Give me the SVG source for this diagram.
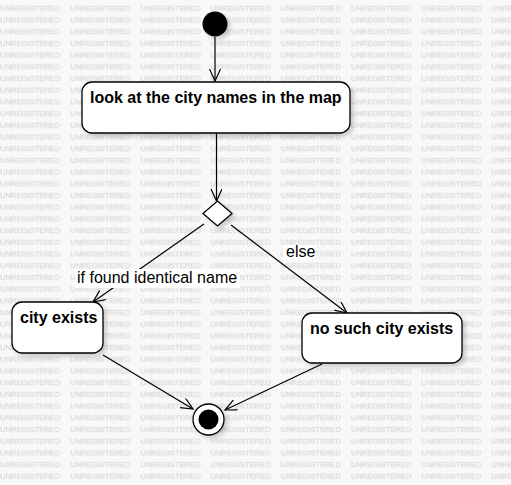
<svg xmlns="http://www.w3.org/2000/svg" width="511" height="485" viewBox="0 0 511 485">
  <defs>
    <pattern id="wm" patternUnits="userSpaceOnUse" x="0" y="0" width="70.2" height="11.7">
      <text x="0" y="11" font-family="'Liberation Sans', Arial, sans-serif" font-size="7.6" fill="#cdcdcd" stroke="#e2e2e2" stroke-width="0.25">UNREGISTERED</text>
    </pattern>
    <filter id="sh" x="-20%" y="-20%" width="150%" height="160%">
      <feDropShadow dx="3" dy="3" stdDeviation="2" flood-color="#000" flood-opacity="0.18"/>
    </filter>
    <marker id="arr" markerUnits="userSpaceOnUse" markerWidth="14" markerHeight="12" refX="12" refY="5.5" orient="auto">
      <path d="M0,0 L12,5.5 L0,11" fill="none" stroke="#000" stroke-width="1.2"/>
    </marker>
  </defs>
  <style>
    .node { fill: #fff; stroke: #000; stroke-width: 1.3; filter: url(#sh); }
    .lbl { font-family: 'Liberation Sans', Arial, sans-serif; font-size: 16px; fill: #000; }
    .b { font-weight: bold; }
    .edge { stroke: #000; stroke-width: 1.2; fill: none; marker-end: url(#arr); }
    .lblbg { fill: #fff; }
  </style>
  <rect width="511" height="485" fill="#f8f8f8"/>
  <rect width="511" height="485" fill="url(#wm)"/>

  <g id="edges">
    <line class="edge" x1="215" y1="37" x2="215" y2="81"/>
    <line class="edge" x1="216.5" y1="133" x2="216.5" y2="201"/>
    <line class="edge" x1="204" y1="224" x2="93" y2="302"/>
    <line class="edge" x1="231" y1="225" x2="347" y2="313"/>
    <line class="edge" x1="103" y1="355" x2="193" y2="409"/>
    <line class="edge" x1="322" y1="364" x2="225" y2="410"/>
    <g id="label-found">
      <rect class="lblbg" x="75" y="269" width="165" height="19"/>
      <text class="lbl" x="77" y="283">if found identical name</text>
    </g>
    <g id="label-else">
      <rect class="lblbg" x="283" y="245" width="32" height="15"/>
      <text class="lbl" x="286" y="257">else</text>
    </g>
  </g>

  <g id="start">
    <circle cx="215" cy="24" r="12.5" fill="#000" filter="url(#sh)"/>
  </g>

  <g id="look">
    <rect class="node" x="82" y="82" width="268" height="51" rx="10" ry="10"/>
    <text class="lbl b" x="90" y="103">look at the city names in the map</text>
  </g>

  <g id="decision">
    <polygon class="node" points="217.5,201 232,213.5 217.5,226 203,213.5"/>
  </g>

  <g id="city-exists">
    <rect class="node" x="12" y="302" width="91" height="51" rx="10" ry="10"/>
    <text class="lbl b" x="20" y="323">city exists</text>
  </g>

  <g id="no-city">
    <rect class="node" x="302" y="313" width="160" height="50" rx="10" ry="10"/>
    <text class="lbl b" x="310" y="334">no such city exists</text>
  </g>

  <g id="end">
    <circle class="node" cx="208.5" cy="419.5" r="15.5"/>
    <circle cx="208.5" cy="419.5" r="10" fill="#000"/>
  </g>
</svg>
